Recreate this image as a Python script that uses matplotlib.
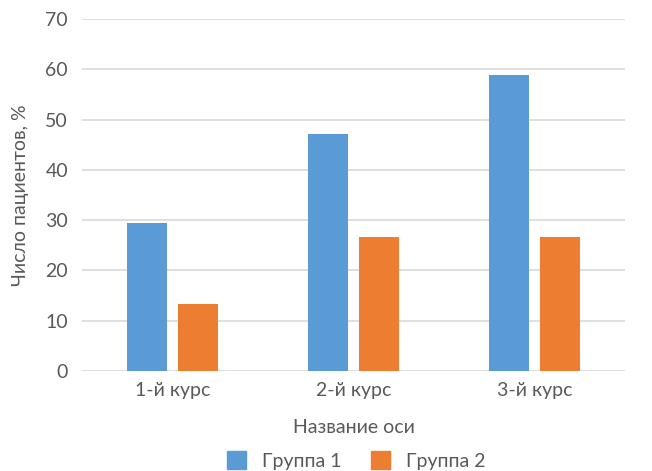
import matplotlib.pyplot as plt
import numpy as np
from matplotlib.patches import Patch

plt.rcParams["font.family"] = ["Lato", "DejaVu Sans"]

CATEGORIES = ["1-й курс", "2-й курс", "3-й курс"]
GROUP1 = [29.4, 47.1, 58.9]
GROUP2 = [13.3, 26.6, 26.6]
SERIES_NAMES = ["Группа 1", "Группа 2"]
YTICKS = [0, 10, 20, 30, 40, 50, 60, 70]

BLUE = "#5B9BD5"
ORANGE = "#ED7D31"
TEXT = "#595959"
GRID = "#D9D9D9"
FS = 14

fig = plt.figure(figsize=(6.52, 4.71), dpi=100)
ax = fig.add_axes([82 / 652, 1 - 371 / 471, 543 / 652, 352 / 471])

x = np.arange(len(CATEGORIES))
width = 0.223
off = 0.141
ax.bar(x - off, GROUP1, width, color=BLUE, zorder=3)
ax.bar(x + off, GROUP2, width, color=ORANGE, zorder=3)

ax.set_xlim(-0.5, len(CATEGORIES) - 0.5)
ax.set_ylim(0, 70)
ax.set_yticks(YTICKS)
ax.set_yticklabels([str(v) for v in YTICKS], fontsize=FS, color=TEXT)
ax.set_xticks(x)
ax.set_xticklabels(CATEGORIES, fontsize=FS, color=TEXT)
ax.tick_params(axis="both", length=0)
ax.tick_params(axis="y", pad=10)
ax.tick_params(axis="x", pad=8)
ax.yaxis.grid(True, color=GRID, linewidth=1.2, zorder=0)
ax.set_axisbelow(True)
for s in ax.spines.values():
    s.set_visible(False)

ax.set_ylabel("Число пациентов, %", fontsize=FS, color=TEXT, labelpad=12)
ax.set_xlabel("Название оси", fontsize=FS, color=TEXT, labelpad=14)

handles = [Patch(color=BLUE, label=SERIES_NAMES[0]),
           Patch(color=ORANGE, label=SERIES_NAMES[1])]
fig.legend(handles=handles, loc="lower center", bbox_to_anchor=(356 / 652, -0.034),
           ncol=2, frameon=False, fontsize=FS, labelcolor=TEXT,
           handlelength=1.0, handleheight=1.0, handletextpad=0.8, columnspacing=1.5)

fig.savefig("out.png", dpi=100)
